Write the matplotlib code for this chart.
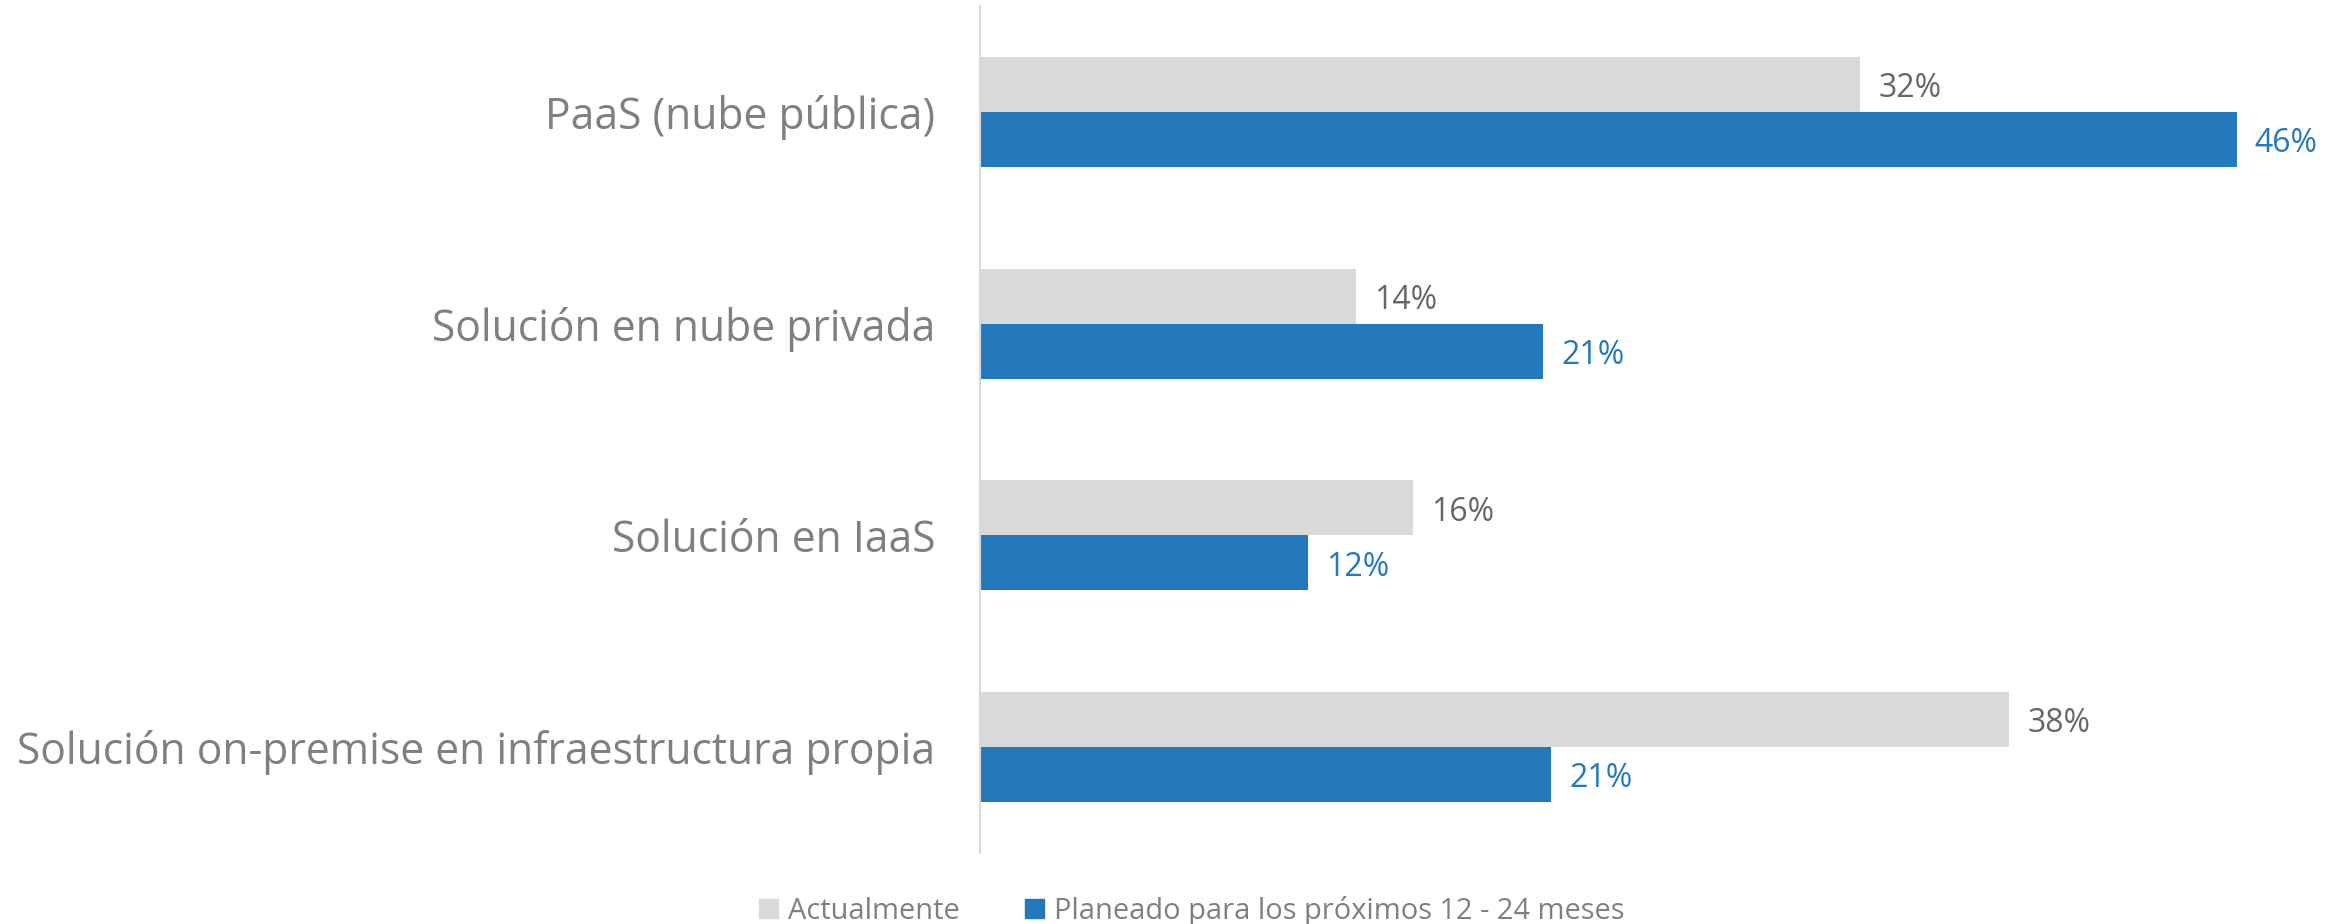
import matplotlib
matplotlib.use("Agg")
import matplotlib.pyplot as plt
import numpy as np
from matplotlib.patches import Patch

plt.rcParams['font.family'] = ['Open Sans', 'DejaVu Sans']

categories = ["PaaS (nube pública)", "Solución en nube privada", "Solución en IaaS",
              "Solución on-premise en infraestructura propia"]
actual = [32.5, 13.9, 16.0, 38.0]
planned = [46.4, 20.8, 12.1, 21.1]
series_names = ["Actualmente", "Planeado para los próximos 12 - 24 meses"]

gray = "#d9d9d9"
blue = "#2479bd"
text_gray = "#808080"

fig = plt.figure(figsize=(23.46, 9.24), dpi=100)
ax = fig.add_axes([980/2346, 1-853/924, (2320-980)/2346, (853-6)/924])

y = np.arange(len(categories))
h = 0.26
ax.barh(y - h/2, actual, height=h, color=gray)
ax.barh(y + h/2, planned, height=h, color=blue)

for yi, v in zip(y, actual):
    ax.annotate(f"{round(v)}%", (v, yi - h/2), xytext=(13, -3), textcoords="offset points",
                va="center", ha="left", fontsize=23, color="#666666")
for yi, v in zip(y, planned):
    ax.annotate(f"{round(v)}%", (v, yi + h/2), xytext=(13, -3), textcoords="offset points",
                va="center", ha="left", fontsize=23, color=blue)

ax.set_ylim(3.5, -0.5)
ax.set_xlim(0, (2320-980)/27.08)
ax.set_yticks(y)
ax.set_yticklabels(categories, fontsize=30.7, color=text_gray)
ax.tick_params(axis="y", length=0, pad=32)
ax.set_xticks([])
for s in ["top", "right", "bottom"]:
    ax.spines[s].set_visible(False)
ax.spines["left"].set_color("#d9d9d9")
ax.spines["left"].set_linewidth(1.5)

handles = [Patch(color=gray), Patch(color=blue)]
leg = fig.legend(handles, series_names, loc="center", bbox_to_anchor=(1192/2346, 1-911/924),
                 ncol=2, frameon=False, fontsize=20.9, handlelength=0.65, handleheight=0.65,
                 handletextpad=0.35, columnspacing=2.25)
for t in leg.get_texts():
    t.set_color(text_gray)

fig.savefig("out.png", dpi=100, facecolor="white")
